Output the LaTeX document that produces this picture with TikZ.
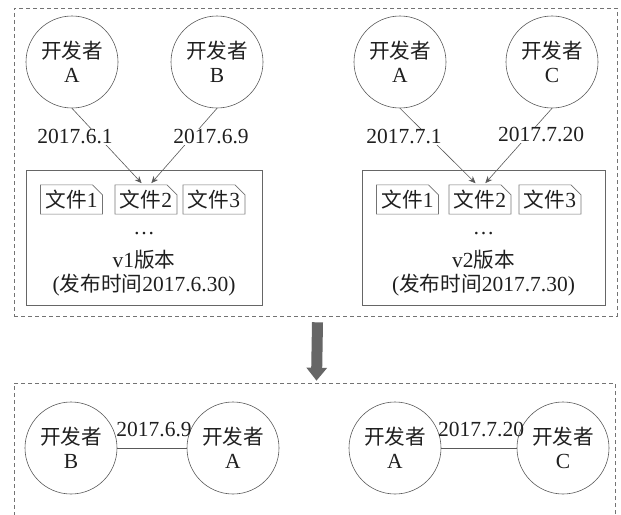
\documentclass[tikz,border=0pt]{standalone}
\usepackage{fontspec}
\setmainfont{Liberation Serif}
\newfontfamily\cjk[Scale=0.96]{Noto Sans CJK SC}
\newcommand{\zh}[1]{{\cjk #1}}
\usetikzlibrary{shapes.misc,arrows.meta}
\begin{document}
\begin{tikzpicture}[x=1pt,y=-1pt,
  font=\fontsize{21.5}{23.5}\selectfont,
  every node/.style={text=black!88},
  dev/.style={circle,draw=black!65,line width=0.6pt,minimum size=92pt,inner sep=0pt,align=center},
  datelbl/.style={fill=white,inner sep=1pt},
  filebox/.style={chamfered rectangle,chamfered rectangle corners=north east,
    chamfered rectangle xsep=5pt,chamfered rectangle ysep=5pt,
    draw=black!55,line width=0.6pt,minimum width=58pt,minimum height=23pt,inner sep=0pt},
  verbox/.style={draw=black!60,line width=0.6pt,inner sep=0pt},
  grp/.style={draw=black!55,line width=0.6pt,dash pattern=on 4pt off 3pt,inner sep=0pt},
  link/.style={draw=black!65,line width=0.6pt},
  arr/.style={link,-{Stealth[length=7pt,width=6pt]},shorten >=2pt},
  bigarr/.style={draw=black!60,line width=11pt,-{Triangle[length=13pt,width=20pt]}}
]
\useasboundingbox (0,0) rectangle (621,514);

% group frames
\node[grp,minimum width=603pt,minimum height=308pt] (g1) at (315.5,162) {};
\node[grp,minimum width=601pt,minimum height=160pt] (g2) at (314.5,463) {};

% top left panel
\node[dev] (ta) at (72,62) {\zh{开发者}\\A};
\node[dev] (tb) at (217,62) {\zh{开发者}\\B};
\node[verbox,minimum width=236pt,minimum height=135pt] (v1) at (144,237.5) {};
\node[filebox] (f11) at (71.5,199.5) {\zh{文件}1};
\node[filebox] (f12) at (146,199.5) {\zh{文件}2};
\node[filebox] (f13) at (214,199.5) {\zh{文件}3};
\node (d1) at (144,234) {\textellipsis};
\node (n1) at (144,260) {v1\zh{版本}};
\node (p1) at (144,285) {(\zh{发布时间}2017.6.30)};

% top right panel
\node[dev] (ua) at (400,62) {\zh{开发者}\\A};
\node[dev] (uc) at (552,62) {\zh{开发者}\\C};
\node[verbox,minimum width=243pt,minimum height=135pt] (v2) at (483.5,237.5) {};
\node[filebox] (f21) at (407.5,199.5) {\zh{文件}1};
\node[filebox] (f22) at (480,199.5) {\zh{文件}2};
\node[filebox] (f23) at (550,199.5) {\zh{文件}3};
\node (d2) at (483.5,234) {\textellipsis};
\node (n2) at (483.5,260) {v2\zh{版本}};
\node (p2) at (483.5,285) {(\zh{发布时间}2017.7.30)};

% arrows
\draw[arr] (ta.south) -- ([xshift=-3pt]f12.north);
\draw[arr] (tb.south) -- ([xshift=4pt]f12.north);
\draw[arr] (ua.south) -- ([xshift=-3pt]f22.north);
\draw[arr] (uc.south) -- ([xshift=4pt]f22.north);

\node[datelbl] (l1) at (75,137) {2017.6.1};
\node[datelbl] (l2) at (211,137) {2017.6.9};
\node[datelbl] (l3) at (404,137) {2017.7.1};
\node[datelbl] (l4) at (541,135) {2017.7.20};

% big arrow
\draw[bigarr] ([xshift=2pt,yshift=-6pt]g1.south) -- ([xshift=2pt,yshift=2pt]g2.north);

% bottom
\node[dev] (ba) at (71,448) {\zh{开发者}\\B};
\node[dev] (bb) at (233,448) {\zh{开发者}\\A};
\node[dev] (bc) at (395,448) {\zh{开发者}\\A};
\node[dev] (bd) at (563,448) {\zh{开发者}\\C};
\draw[link] (ba) -- (bb);
\draw[link] (bc) -- (bd);
\node[inner sep=0pt] (m1) at (154,429) {2017.6.9};
\node[inner sep=0pt] (m2) at (481,429) {2017.7.20};
\end{tikzpicture}
\end{document}
